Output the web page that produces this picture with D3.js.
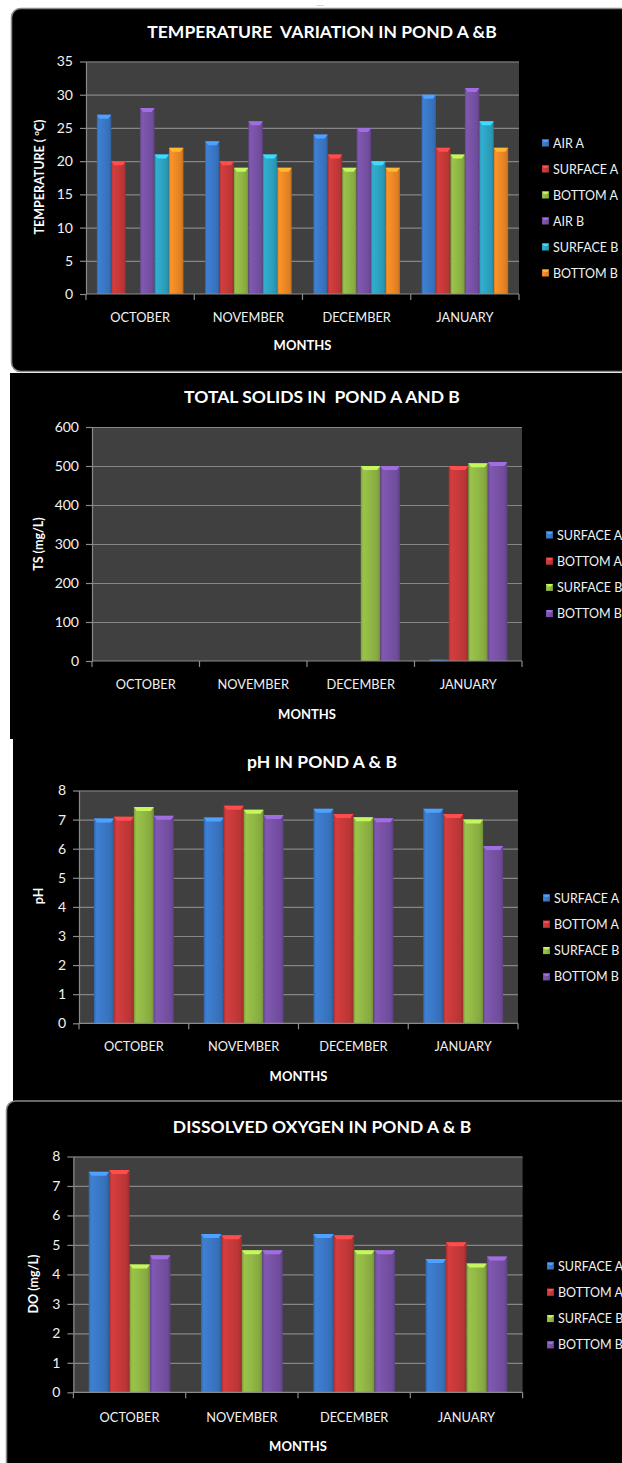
<!DOCTYPE html>
<html>
<head>
<meta charset="utf-8">
<script src="https://cdn.jsdelivr.net/npm/d3@7"></script>
<style>
  body { margin: 0; background: #fff; }
  text { font-family: Lato, "Open Sans", sans-serif; }
</style>
</head>
<body>
<div id="page"></div>
<script>
// ---- data ----
const months = ['OCTOBER', 'NOVEMBER', 'DECEMBER', 'JANUARY'];

// temperature (°C)
const tempSeries = ['AIR A', 'SURFACE A', 'BOTTOM A', 'AIR B', 'SURFACE B', 'BOTTOM B'];
const tempAirA = [27, 23, 24, 30];
const tempSurfaceA = [20, 20, 21, 22];
const tempBottomA = [null, 19, 19, 21];
const tempAirB = [28, 26, 25, 31];
const tempSurfaceB = [21, 21, 20, 26];
const tempBottomB = [22, 19, 19, 22];
const tempTicks = [0, 5, 10, 15, 20, 25, 30, 35];

// total solids (mg/L)
const pondSeries = ['SURFACE A', 'BOTTOM A', 'SURFACE B', 'BOTTOM B'];
const tsSurfaceA = [null, null, null, 4];
const tsBottomA = [null, null, null, 500];
const tsSurfaceB = [null, null, 500, 507];
const tsBottomB = [null, null, 500, 510];
const tsTicks = [0, 100, 200, 300, 400, 500, 600];

// pH
const phSurfaceA = [7.04, 7.07, 7.37, 7.37];
const phBottomA = [7.1, 7.48, 7.19, 7.19];
const phSurfaceB = [7.43, 7.34, 7.08, 7.0];
const phBottomB = [7.13, 7.16, 7.05, 6.09];
const phTicks = [0, 1, 2, 3, 4, 5, 6, 7, 8];

// dissolved oxygen (mg/L)
const doSurfaceA = [7.48, 5.37, 5.37, 4.52];
const doBottomA = [7.54, 5.33, 5.33, 5.09];
const doSurfaceB = [4.34, 4.82, 4.82, 4.37];
const doBottomB = [4.65, 4.82, 4.82, 4.61];
const doTicks = [0, 1, 2, 3, 4, 5, 6, 7, 8];

// excel-ish bar colours
const palette = {
  blue: '#3b79c8', red: '#c93a3a', green: '#93b946',
  purple: '#7953a8', cyan: '#2ea5c4', orange: '#f08a26'
};

const svg = d3.select('#page').append('svg')
    .attr('width', 622)
    .attr('height', 1463);

// gradients that give the bars their bevelled look
const defs = svg.append('defs');
Object.entries(palette).forEach(([key, base]) => {
  const c = d3.color(base);
  const g = defs.append('linearGradient')
      .attr('id', 'grad-' + key)
      .attr('x1', '0%').attr('x2', '100%').attr('y1', '0%').attr('y2', '0%');
  g.append('stop').attr('offset', '0%').attr('stop-color', c.darker(0.5));
  g.append('stop').attr('offset', '12%').attr('stop-color', c.brighter(0.15));
  g.append('stop').attr('offset', '45%').attr('stop-color', c);
  g.append('stop').attr('offset', '85%').attr('stop-color', c.darker(0.25));
  g.append('stop').attr('offset', '100%').attr('stop-color', c.darker(0.7));
});

// panel backgrounds (screenshots pasted one below the other)
svg.append('text').attr('x', 320).attr('y', 6).attr('fill', '#9a9a9a')
    .attr('font-size', 7).attr('text-anchor', 'middle').text('....');
svg.append('rect').attr('x', 10).attr('y', 373).attr('width', 640).attr('height', 366).attr('fill', '#000');
svg.append('rect').attr('x', 13).attr('y', 737).attr('width', 640).attr('height', 364).attr('fill', '#000');
svg.append('rect').attr('x', 11.5).attr('y', 8.5).attr('width', 640).attr('height', 363).attr('rx', 9)
    .attr('fill', '#000').attr('stroke', '#8a8a8a').attr('stroke-width', 1.5);
svg.append('rect').attr('x', 6.5).attr('y', 1101).attr('width', 640).attr('height', 380).attr('rx', 9)
    .attr('fill', '#000').attr('stroke', '#8a8a8a').attr('stroke-width', 1.5);

const charts = [
  {
    title: 'TEMPERATURE  VARIATION IN POND A &B', titleY: 38,
    yTitle: 'TEMPERATURE ( ', yTitleSup: 'o', yTitleEnd: 'C)', yTitleX: 40, yTitleY: 177,
    left: 86, right: 519, top: 61.5, bottom: 294, ticks: tempTicks,
    xLabelY: 322, monthsY: 350, legendX: 542, legendY: 143, legendStep: 26,
    series: [
      {name: tempSeries[0], values: tempAirA, color: 'blue'},
      {name: tempSeries[1], values: tempSurfaceA, color: 'red'},
      {name: tempSeries[2], values: tempBottomA, color: 'green'},
      {name: tempSeries[3], values: tempAirB, color: 'purple'},
      {name: tempSeries[4], values: tempSurfaceB, color: 'cyan'},
      {name: tempSeries[5], values: tempBottomB, color: 'orange'}
    ]
  },
  {
    title: 'TOTAL SOLIDS IN  POND A AND B', titleY: 403,
    yTitle: 'TS (mg/L)', yTitleX: 39, yTitleY: 544,
    left: 92, right: 522, top: 427, bottom: 661, ticks: tsTicks,
    xLabelY: 689, monthsY: 719, legendX: 546, legendY: 535, legendStep: 26.2,
    series: [
      {name: pondSeries[0], values: tsSurfaceA, color: 'blue'},
      {name: pondSeries[1], values: tsBottomA, color: 'red'},
      {name: pondSeries[2], values: tsSurfaceB, color: 'green'},
      {name: pondSeries[3], values: tsBottomB, color: 'purple'}
    ]
  },
  {
    title: 'pH IN POND A & B', titleY: 768,
    yTitle: 'pH', yTitleX: 39, yTitleY: 896,
    left: 79, right: 518, top: 790.5, bottom: 1023.3, ticks: phTicks,
    xLabelY: 1051, monthsY: 1081, legendX: 543, legendY: 898, legendStep: 26.3,
    series: [
      {name: pondSeries[0], values: phSurfaceA, color: 'blue'},
      {name: pondSeries[1], values: phBottomA, color: 'red'},
      {name: pondSeries[2], values: phSurfaceB, color: 'green'},
      {name: pondSeries[3], values: phBottomB, color: 'purple'}
    ]
  },
  {
    title: 'DISSOLVED OXYGEN IN POND A & B', titleY: 1133,
    yTitle: 'DO (mg/L)', yTitleX: 34, yTitleY: 1284,
    left: 73.4, right: 522.6, top: 1156.5, bottom: 1392.3, ticks: doTicks,
    xLabelY: 1422, monthsY: 1451, legendX: 547, legendY: 1266, legendStep: 26.3,
    series: [
      {name: pondSeries[0], values: doSurfaceA, color: 'blue'},
      {name: pondSeries[1], values: doBottomA, color: 'red'},
      {name: pondSeries[2], values: doSurfaceB, color: 'green'},
      {name: pondSeries[3], values: doBottomB, color: 'purple'}
    ]
  }
];

charts.forEach(cfg => drawChart(cfg));

function drawChart(cfg) {
  const g = svg.append('g');
  const w = cfg.right - cfg.left;
  const yMax = cfg.ticks[cfg.ticks.length - 1];

  const x = d3.scaleBand().domain(months).range([cfg.left, cfg.right]);
  // excel gap width of 150% -> outer padding of 0.75 bar
  const xInner = d3.scaleBand()
      .domain(cfg.series.map(s => s.name))
      .range([0, x.bandwidth()])
      .paddingInner(0)
      .paddingOuter(0.75);
  const y = d3.scaleLinear().domain([0, yMax]).range([cfg.bottom, cfg.top]);

  // plot area
  g.append('rect')
      .attr('x', cfg.left).attr('y', cfg.top)
      .attr('width', w).attr('height', cfg.bottom - cfg.top)
      .attr('fill', '#404040');

  // gridlines
  const grid = g.append('g')
      .attr('transform', `translate(${cfg.left},0)`)
      .call(d3.axisLeft(y).tickValues(cfg.ticks.slice(1)).tickSize(-w).tickFormat(''));
  grid.select('.domain').remove();
  grid.selectAll('line').attr('stroke', '#858585').attr('stroke-width', 1.2);

  // bars
  cfg.series.forEach(s => {
    const bars = months.map((m, i) => ({month: m, value: s.values[i]}))
        .filter(d => d.value !== null);
    const bw = xInner.bandwidth();
    g.selectAll(null)
        .data(bars)
      .join('rect')
        .attr('x', d => x(d.month) + xInner(s.name))
        .attr('y', d => y(d.value))
        .attr('width', bw)
        .attr('height', d => cfg.bottom - y(d.value))
        .attr('fill', `url(#grad-${s.color})`);
    // bevel on the top of each bar
    g.selectAll(null)
        .data(bars.filter(d => cfg.bottom - y(d.value) > 5))
      .join('polygon')
        .attr('points', d => {
          const x0 = x(d.month) + xInner(s.name), y0 = y(d.value);
          return [[x0, y0], [x0 + bw, y0], [x0 + bw - 3, y0 + 4], [x0 + 3, y0 + 4]].join(' ');
        })
        .attr('fill', d3.color(palette[s.color]).brighter(0.8));
  });

  // y axis
  const yAxis = g.append('g')
      .attr('transform', `translate(${cfg.left},0)`)
      .call(d3.axisLeft(y).tickValues(cfg.ticks).tickSize(6).tickSizeOuter(0).tickPadding(7));
  yAxis.select('.domain').attr('stroke', '#8a8a8a').attr('stroke-width', 1.2);
  yAxis.selectAll('line').attr('stroke', '#8a8a8a').attr('stroke-width', 1.2);
  yAxis.selectAll('text')
      .attr('fill', '#f2f2f2')
      .attr('font-size', 14)
      .style('font-family', 'Lato, sans-serif');

  // x axis: baseline, boundary ticks and month labels
  const bounds = months.map(m => x(m)).concat([cfg.right]);
  g.append('line')
      .attr('x1', cfg.left).attr('x2', cfg.right)
      .attr('y1', cfg.bottom).attr('y2', cfg.bottom)
      .attr('stroke', '#8a8a8a').attr('stroke-width', 1.2);
  g.selectAll(null)
      .data(bounds)
    .join('line')
      .attr('x1', d => d).attr('x2', d => d)
      .attr('y1', cfg.bottom).attr('y2', cfg.bottom + 6)
      .attr('stroke', '#8a8a8a').attr('stroke-width', 1.2);
  g.selectAll(null)
      .data(months)
    .join('text')
      .attr('x', d => x(d) + x.bandwidth() / 2)
      .attr('y', cfg.xLabelY)
      .attr('text-anchor', 'middle')
      .attr('fill', '#f2f2f2')
      .attr('font-size', 12.8)
      .text(d => d);

  // titles
  g.append('text')
      .attr('x', 322).attr('y', cfg.titleY)
      .attr('text-anchor', 'middle')
      .attr('fill', '#fff')
      .attr('font-size', 17.5)
      .attr('font-weight', 'bold')
      .style('white-space', 'pre')
      .text(cfg.title);

  g.append('text')
      .attr('x', (cfg.left + cfg.right) / 2).attr('y', cfg.monthsY)
      .attr('text-anchor', 'middle')
      .attr('fill', '#fff')
      .attr('font-size', 13)
      .attr('font-weight', 'bold')
      .text('MONTHS');

  const yt = g.append('text')
      .attr('transform', `translate(${cfg.yTitleX},${cfg.yTitleY}) rotate(-90)`)
      .attr('text-anchor', 'middle')
      .attr('dy', '0.35em')
      .attr('fill', '#fff')
      .attr('font-size', 12.5)
      .attr('font-weight', 'bold')
      .style('white-space', 'pre');
  yt.append('tspan').text(cfg.yTitle);
  if (cfg.yTitleSup) {
    yt.append('tspan').attr('font-size', 8).attr('dy', -5).text(cfg.yTitleSup);
    yt.append('tspan').attr('dy', 5).text(cfg.yTitleEnd);
  }

  // legend
  const legend = g.selectAll(null)
      .data(cfg.series)
    .join('g')
      .attr('transform', (d, i) => `translate(${cfg.legendX},${cfg.legendY + i * cfg.legendStep})`);
  legend.append('rect')
      .attr('x', 0).attr('y', -3.5)
      .attr('width', 7).attr('height', 7)
      .attr('fill', d => `url(#grad-${d.color})`);
  legend.append('polygon')
      .attr('points', '0,-3.5 7,-3.5 5,-1 2,-1')
      .attr('fill', d => d3.color(palette[d.color]).brighter(0.8));
  legend.append('text')
      .attr('x', 11).attr('y', 0)
      .attr('dy', '0.36em')
      .attr('fill', '#f2f2f2')
      .attr('font-size', 12.5)
      .text(d => d.name);
}
</script>
</body>
</html>
